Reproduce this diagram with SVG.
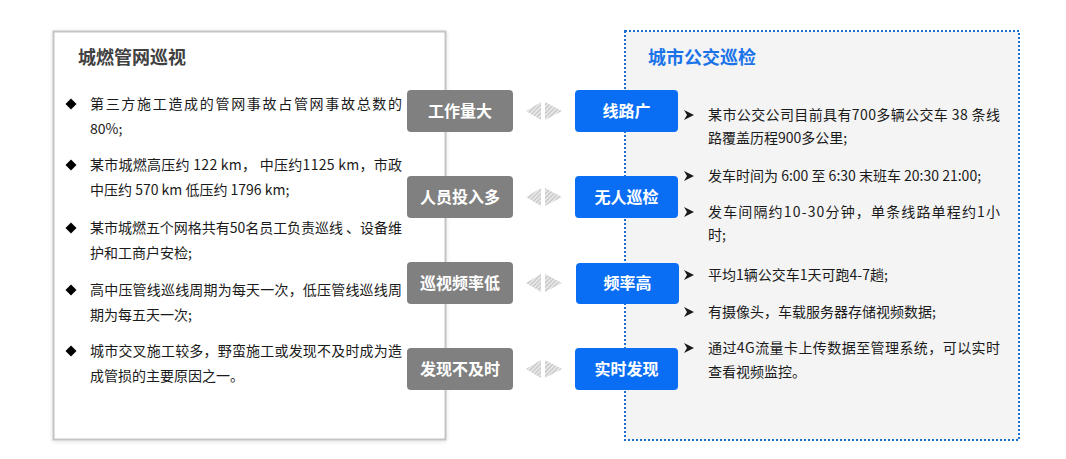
<svg xmlns="http://www.w3.org/2000/svg" width="1066" height="459" viewBox="0 0 1066 459">
<defs>
<pattern id="hatch" patternUnits="userSpaceOnUse" width="3" height="3" patternTransform="rotate(45)">
<rect width="3" height="3" fill="#e6e6e6"/>
<line x1="0" y1="0" x2="0" y2="3" stroke="#b8b8b8" stroke-width="1.6"/>
</pattern>
<filter id="sh" x="-5%" y="-5%" width="110%" height="110%">
<feDropShadow dx="0" dy="1" stdDeviation="2" flood-color="#000" flood-opacity="0.12"/>
</filter>
<path id="dia" d="M0,-5.5 L5.5,0 L0,5.5 L-5.5,0 Z"/>
<path id="arw" d="M0,-5 L10,0 L0,5 L3,0 Z"/>
</defs>
<style>
.t{font-family:"Microsoft YaHei","Noto Sans CJK SC","Noto Sans",sans-serif;font-size:14px;fill:#1a1a1a}
.h{font-family:"Microsoft YaHei","Noto Sans CJK SC",sans-serif;font-size:18px;font-weight:bold}
.lb{font-family:"Microsoft YaHei","Noto Sans CJK SC",sans-serif;font-size:16px;font-weight:bold;fill:#fff;text-anchor:middle}
.gb{fill:#808080}
.bb{fill:#0a6ef5}
.ic{fill:url(#hatch)}
.ar{fill:#1a1a1a}
</style>

<g id="left-panel">
<rect x="53.5" y="31.5" width="392" height="408" fill="#fff" stroke="#c4c4c4" stroke-width="2" filter="url(#sh)"/>
<text class="h" x="78" y="64" fill="#404040">城燃管网巡视</text>
<use href="#dia" x="71" y="104"/>
<text class="t" x="90" y="109" textLength="312" lengthAdjust="spacing">第三方施工造成的管网事故占管网事故总数的</text>
<text class="t" x="90" y="134">80%;</text>
<use href="#dia" x="71" y="165"/>
<text class="t" x="90" y="170" textLength="312" lengthAdjust="spacing">某市城燃高压约 122 km， 中压约1125 km，市政</text>
<text class="t" x="90" y="195">中压约 570 km 低压约 1796 km;</text>
<use href="#dia" x="71" y="228"/>
<text class="t" x="90" y="233" textLength="312" lengthAdjust="spacing">某市城燃五个网格共有50名员工负责巡线 、设备维</text>
<text class="t" x="90" y="258">护和工商户安检;</text>
<use href="#dia" x="71" y="290"/>
<text class="t" x="90" y="295" textLength="312" lengthAdjust="spacing">高中压管线巡线周期为每天一次，低压管线巡线周</text>
<text class="t" x="90" y="320">期为每五天一次;</text>
<use href="#dia" x="71" y="351"/>
<text class="t" x="90" y="356" textLength="312" lengthAdjust="spacing">城市交叉施工较多，野蛮施工或发现不及时成为造</text>
<text class="t" x="90" y="381">成管损的主要原因之一。</text>
</g>

<g id="right-panel">
<rect x="625" y="31" width="394" height="409" fill="#f4f4f4" stroke="#1a6fd0" stroke-width="2" stroke-dasharray="2,2"/>
<text class="h" x="648" y="64" fill="#1a73e8">城市公交巡检</text>
<use class="ar" href="#arw" x="684" y="115"/>
<text class="t" x="708" y="120" textLength="292" lengthAdjust="spacing">某市公交公司目前具有700多辆公交车 38 条线</text>
<text class="t" x="708" y="143">路覆盖历程900多公里;</text>
<use class="ar" href="#arw" x="684" y="176"/>
<text class="t" x="708" y="181">发车时间为 6:00 至 6:30 末班车 20:30 21:00;</text>
<use class="ar" href="#arw" x="684" y="212"/>
<text class="t" x="708" y="217" textLength="292" lengthAdjust="spacing">发车间隔约10-30分钟，单条线路单程约1小</text>
<text class="t" x="708" y="240">时;</text>
<use class="ar" href="#arw" x="684" y="275"/>
<text class="t" x="708" y="280">平均1辆公交车1天可跑4-7趟;</text>
<use class="ar" href="#arw" x="684" y="312"/>
<text class="t" x="708" y="317">有摄像头，车载服务器存储视频数据;</text>
<use class="ar" href="#arw" x="684" y="348"/>
<text class="t" x="708" y="353" textLength="292" lengthAdjust="spacing">通过4G流量卡上传数据至管理系统，可以实时</text>
<text class="t" x="708" y="377">查看视频监控。</text>
</g>

<g id="node-gongzuoliangda"><rect class="gb" x="407" y="90" width="106" height="42" rx="4"/><text class="lb" x="460" y="117">工作量大</text></g>
<g id="node-renyuantouruduo"><rect class="gb" x="407" y="176" width="106" height="42" rx="4"/><text class="lb" x="460" y="203">人员投入多</text></g>
<g id="node-xunshipinlvdi"><rect class="gb" x="407" y="262" width="106" height="42" rx="4"/><text class="lb" x="460" y="289">巡视频率低</text></g>
<g id="node-faxianbujishi"><rect class="gb" x="407" y="348" width="106" height="42" rx="4"/><text class="lb" x="460" y="375">发现不及时</text></g>

<g id="node-xianluguang"><rect class="bb" x="575" y="90" width="103" height="42" rx="4"/><text class="lb" x="626.5" y="117">线路广</text></g>
<g id="node-wurenxunjian"><rect class="bb" x="575" y="176" width="103" height="42" rx="4"/><text class="lb" x="626.5" y="203">无人巡检</text></g>
<g id="node-pinlvgao"><rect class="bb" x="576" y="263" width="103" height="41" rx="4"/><text class="lb" x="627.5" y="289">频率高</text></g>
<g id="node-shishifaxian"><rect class="bb" x="575" y="348" width="103" height="42" rx="4"/><text class="lb" x="626.5" y="375">实时发现</text></g>

<g id="connectors">
<path class="ic" d="M526,111 L541,102 L541,120 Z M545,102 L545,120 L562,111 Z"/>
<path class="ic" d="M526,197 L541,188 L541,206 Z M545,188 L545,206 L562,197 Z"/>
<path class="ic" d="M526,283 L541,274 L541,292 Z M545,274 L545,292 L562,283 Z"/>
<path class="ic" d="M526,369 L541,360 L541,378 Z M545,360 L545,378 L562,369 Z"/>
</g>
</svg>
